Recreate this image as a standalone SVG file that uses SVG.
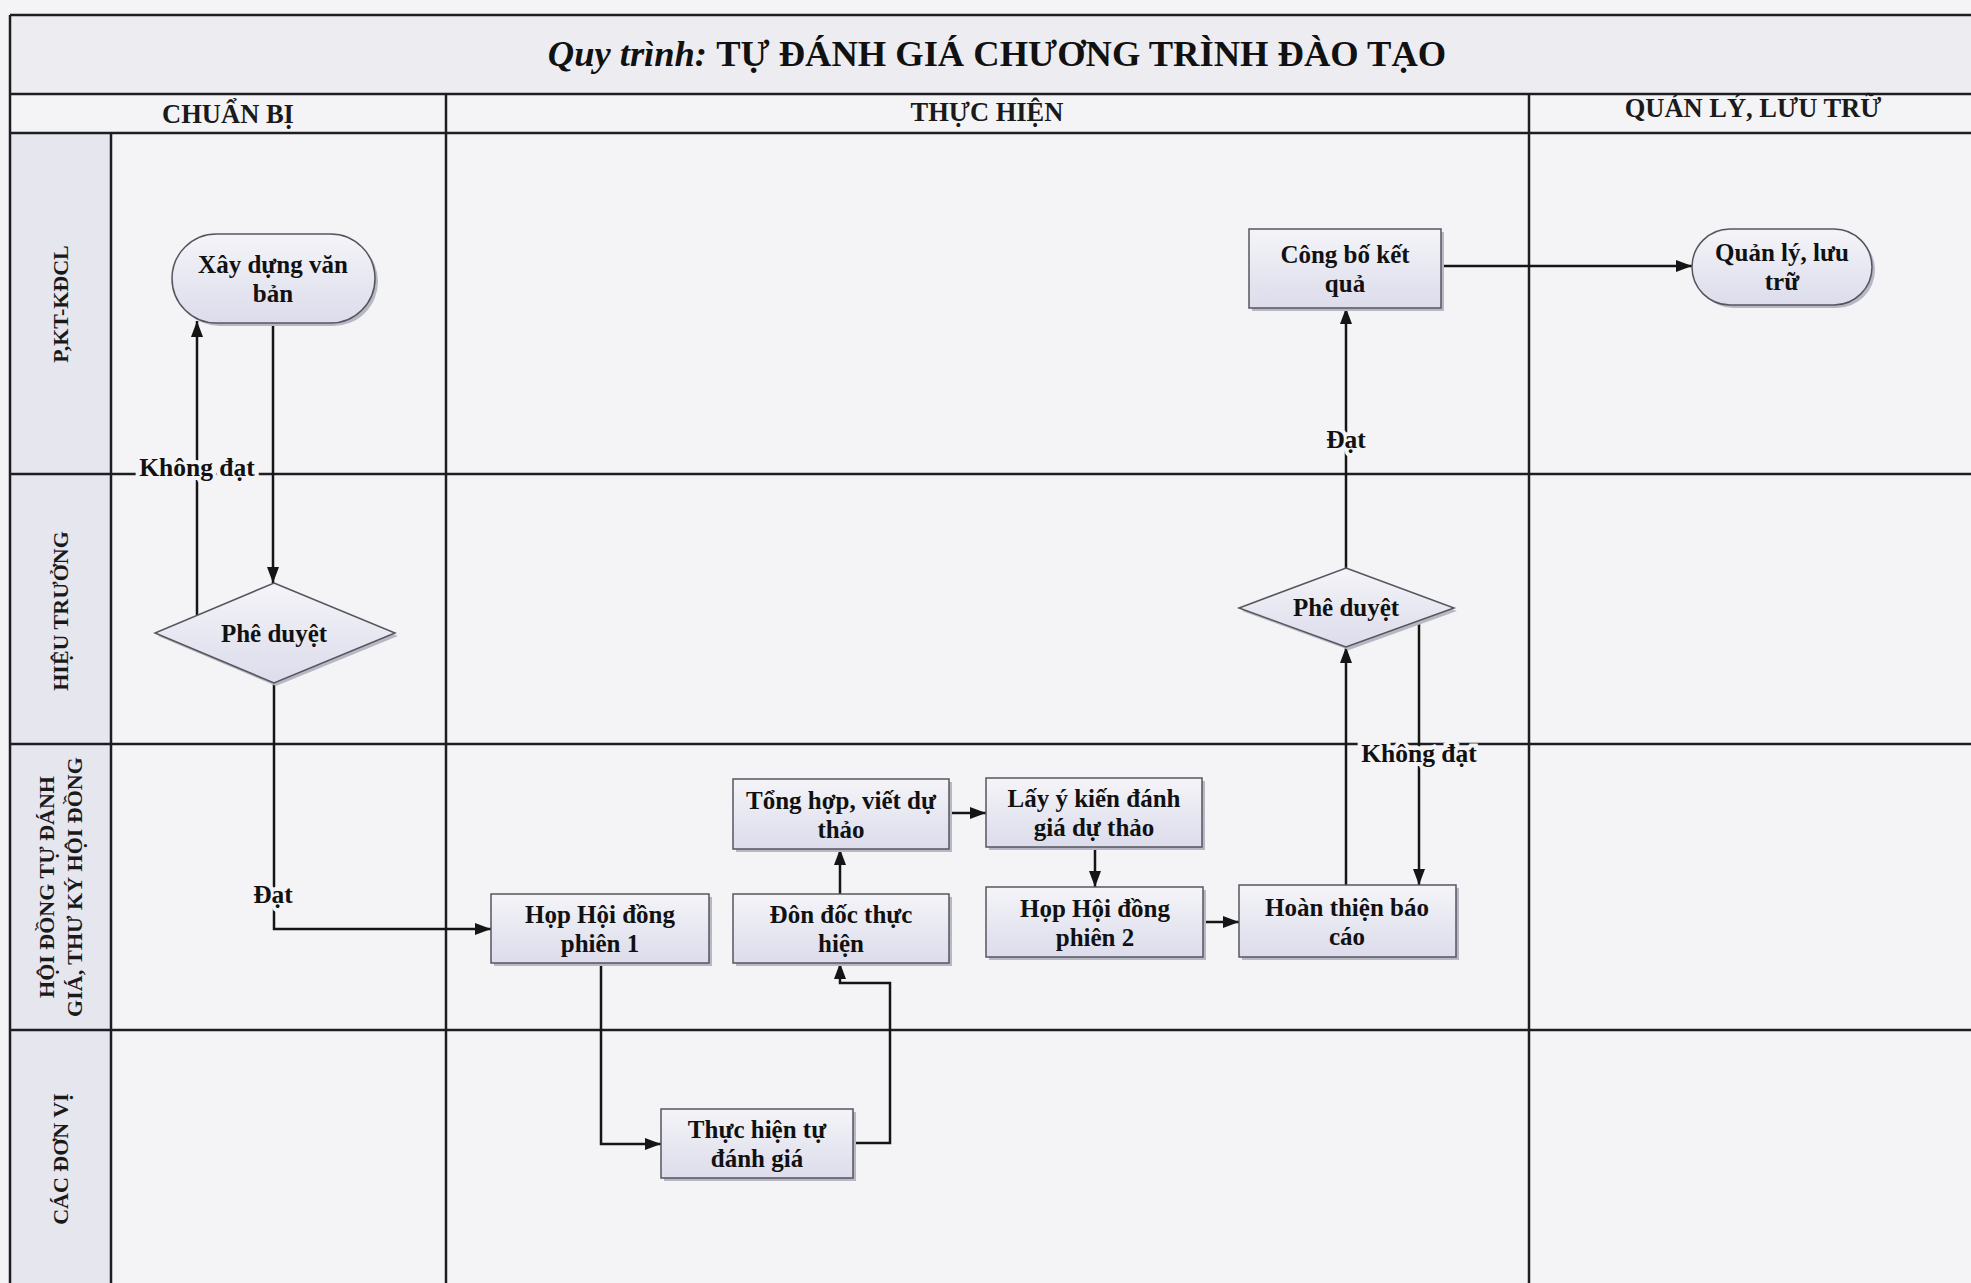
<svg xmlns="http://www.w3.org/2000/svg" width="1971" height="1283" viewBox="0 0 1971 1283">
<style>
  .bg{fill:#f4f4f6}
  .grid{stroke:#1e1e22;stroke-width:2.5;fill:none}
  .lanecol{fill:#e6e6ef}
  .hdr{font-family:"Liberation Serif",serif;font-weight:bold;font-size:26.5px;fill:#1a1a1a;text-anchor:middle;dominant-baseline:central}
  .lane{font-family:"Liberation Serif",serif;font-weight:bold;font-size:22px;fill:#1a1a1a;text-anchor:middle;dominant-baseline:central}
  .node{fill:url(#ng);stroke:#55555e;stroke-width:1.5}
  .shadow{fill:#b8b8c4}
  .nt{font-family:"Liberation Serif",serif;font-weight:bold;font-size:25px;fill:#111;text-anchor:middle;dominant-baseline:central}
  .conn{stroke:#151515;stroke-width:2.5;fill:none;marker-end:url(#ah)}
  .lbl{font-family:"Liberation Serif",serif;font-weight:bold;font-size:25.5px;fill:#111;text-anchor:middle;dominant-baseline:central;paint-order:stroke;stroke:#f4f4f6;stroke-width:8px}
</style>
<defs>
  <linearGradient id="ng" x1="0" y1="0" x2="0" y2="1">
    <stop offset="0" stop-color="#f4f4f8"/>
    <stop offset="1" stop-color="#dcdcec"/>
  </linearGradient>
  <marker id="ah" viewBox="0 0 16 12" refX="16" refY="6" markerWidth="16" markerHeight="12" markerUnits="userSpaceOnUse" orient="auto">
    <path d="M0,0 L16,6 L0,12 Z" fill="#151515"/>
  </marker>
</defs>

<rect class="bg" x="0" y="0" width="1971" height="1283"/>
<rect x="10" y="15" width="1961" height="79" fill="#ededf1"/>
<rect class="lanecol" x="10" y="133" width="101" height="1150"/>

<g id="grid">
  <path class="grid" d="M10,15 H1971 M10,94 H1971 M10,133 H1971 M10,15 V1283 M111,133 V1283 M446,94 V1283 M1529,94 V1283 M10,474 H1971 M10,744 H1971 M10,1030 H1971"/>
</g>

<g id="title">
  <text x="997" y="53" font-family="Liberation Serif,serif" font-size="36.5" fill="#111" text-anchor="middle" dominant-baseline="central"><tspan font-style="italic" font-weight="bold">Quy trình: </tspan><tspan font-weight="bold">TỰ ĐÁNH GIÁ CHƯƠNG TRÌNH ĐÀO TẠO</tspan></text>
</g>

<g id="headers">
  <text class="hdr" x="228" y="114">CHUẨN BỊ</text>
  <text class="hdr" x="987" y="112">THỰC HIỆN</text>
  <text class="hdr" x="1753" y="108">QUẢN LÝ, LƯU TRỮ</text>
</g>

<g id="lanes">
  <text class="lane" transform="translate(60,304) rotate(-90)">P,KT-KĐCL</text>
  <text class="lane" transform="translate(60,611) rotate(-90)">HIỆU TRƯỞNG</text>
  <text class="lane" transform="translate(60,887) rotate(-90)"><tspan x="0" y="-14">HỘI ĐỒNG TỰ ĐÁNH</tspan><tspan x="0" y="14">GIÁ, THƯ KÝ HỘI ĐỒNG</tspan></text>
  <text class="lane" transform="translate(60,1159) rotate(-90)">CÁC ĐƠN VỊ</text>
</g>

<g id="connectors">
  <path class="conn" d="M273,323 V583"/>
  <path class="conn" d="M197,615 V321"/>
  <path class="conn" d="M274,683 V929 H491"/>
  <path class="conn" d="M601,963 V1144 H661"/>
  <path class="conn" d="M853,1143 H890 V983 H840 V963"/>
  <path class="conn" d="M840,894 V849"/>
  <path class="conn" d="M949,813 H986"/>
  <path class="conn" d="M1095,847 V887"/>
  <path class="conn" d="M1203,922 H1239"/>
  <path class="conn" d="M1346,885 V647"/>
  <path class="conn" d="M1419,620 V885"/>
  <path class="conn" d="M1346,568 V308"/>
  <path class="conn" d="M1441,266 H1692"/>
  <text class="lbl" x="197" y="467">Không đạt</text>
  <text class="lbl" x="273" y="894">Đạt</text>
  <text class="lbl" x="1419" y="753">Không đạt</text>
  <text class="lbl" x="1346" y="439">Đạt</text>
</g>

<g id="n-xaydung">
  <rect class="shadow" x="175" y="237" width="203" height="89" rx="44.5"/>
  <rect class="node" x="172" y="234" width="203" height="89" rx="44.5"/>
  <text class="nt" x="273" y="264">Xây dựng văn</text>
  <text class="nt" x="273" y="293">bản</text>
</g>

<g id="n-pheduyet1">
  <polygon class="shadow" points="276,586 398,636 276,686 158,636"/>
  <polygon class="node" points="274,583 395,633 274,683 155,633"/>
  <text class="nt" x="274" y="633">Phê duyệt</text>
</g>

<g id="n-hop1">
  <rect class="shadow" x="494" y="897" width="218" height="69"/>
  <rect class="node" x="491" y="894" width="218" height="69"/>
  <text class="nt" x="600" y="914">Họp Hội đồng</text>
  <text class="nt" x="600" y="943">phiên 1</text>
</g>

<g id="n-thuchien">
  <rect class="shadow" x="664" y="1112" width="192" height="69"/>
  <rect class="node" x="661" y="1109" width="192" height="69"/>
  <text class="nt" x="757" y="1129">Thực hiện tự</text>
  <text class="nt" x="757" y="1158">đánh giá</text>
</g>

<g id="n-dondoc">
  <rect class="shadow" x="736" y="897" width="216" height="69"/>
  <rect class="node" x="733" y="894" width="216" height="69"/>
  <text class="nt" x="841" y="914">Đôn đốc thực</text>
  <text class="nt" x="841" y="943">hiện</text>
</g>

<g id="n-tonghop">
  <rect class="shadow" x="736" y="782" width="216" height="70"/>
  <rect class="node" x="733" y="779" width="216" height="70"/>
  <text class="nt" x="841" y="800">Tổng hợp, viết dự</text>
  <text class="nt" x="841" y="829">thảo</text>
</g>

<g id="n-layykien">
  <rect class="shadow" x="989" y="781" width="216" height="69"/>
  <rect class="node" x="986" y="778" width="216" height="69"/>
  <text class="nt" x="1094" y="798">Lấy ý kiến đánh</text>
  <text class="nt" x="1094" y="827">giá dự thảo</text>
</g>

<g id="n-hop2">
  <rect class="shadow" x="989" y="890" width="217" height="70"/>
  <rect class="node" x="986" y="887" width="217" height="70"/>
  <text class="nt" x="1095" y="908">Họp Hội đồng</text>
  <text class="nt" x="1095" y="937">phiên 2</text>
</g>

<g id="n-hoanthien">
  <rect class="shadow" x="1242" y="888" width="217" height="72"/>
  <rect class="node" x="1239" y="885" width="217" height="72"/>
  <text class="nt" x="1347" y="907">Hoàn thiện báo</text>
  <text class="nt" x="1347" y="936">cáo</text>
</g>

<g id="n-pheduyet2">
  <polygon class="shadow" points="1349,571 1457,611 1349,650 1242,611"/>
  <polygon class="node" points="1346,568 1454,608 1346,647 1239,608"/>
  <text class="nt" x="1346" y="607">Phê duyệt</text>
</g>

<g id="n-congbo">
  <rect class="shadow" x="1252" y="232" width="192" height="79"/>
  <rect class="node" x="1249" y="229" width="192" height="79"/>
  <text class="nt" x="1345" y="254">Công bố kết</text>
  <text class="nt" x="1345" y="283">quả</text>
</g>

<g id="n-quanly">
  <rect class="shadow" x="1695" y="232" width="180" height="76" rx="38"/>
  <rect class="node" x="1692" y="229" width="180" height="76" rx="38"/>
  <text class="nt" x="1782" y="252">Quản lý, lưu</text>
  <text class="nt" x="1782" y="281">trữ</text>
</g>
</svg>
